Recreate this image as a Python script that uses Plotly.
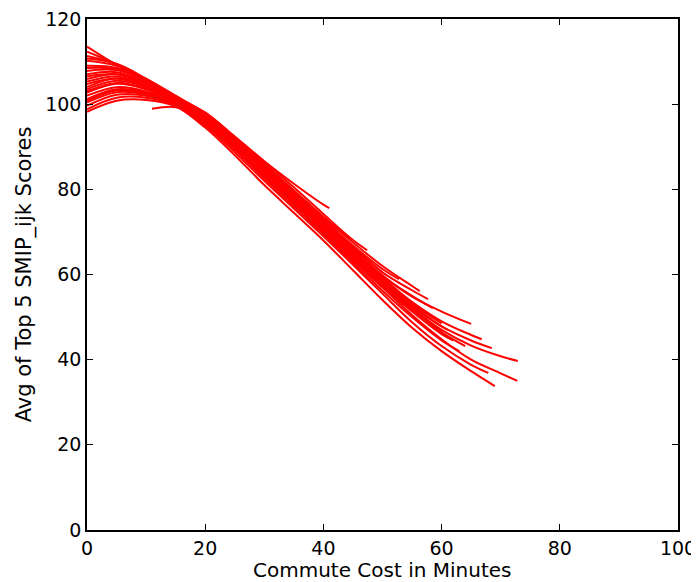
import plotly.graph_objects as go

# Curves (x = commute minutes, y = avg score)
a_x = [0, 5, 10, 15, 20, 25, 30, 35, 40, 41]
a_y = [113.5, 109.2, 105.6, 101.6, 98.0, 92.3, 86.6, 81.3, 76.4, 75.6]
b_x = [0, 5, 10, 15, 20, 25, 30, 35, 40, 44.5]
b_y = [112.3, 109.3, 105.3, 101.3, 97.2, 91.5, 85.5, 79.5, 73.5, 68.3]
c_x = [0, 5, 10, 15, 20, 25, 30, 35, 40, 45, 47.4]
c_y = [111.3, 109.4, 105.8, 101.8, 98.0, 92.4, 86.5, 80.5, 74.2, 68.1, 65.7]
d_x = [0, 5, 10, 15, 20, 25, 30, 35, 40, 45, 50, 52.8]
d_y = [110.7, 109.5, 106.0, 102.0, 97.8, 91.9, 85.8, 79.5, 73.0, 66.8, 61.3, 58.9]
e_x = [0, 5, 10, 15, 20, 25, 30, 35, 40, 45, 50, 55, 56.3]
e_y = [110.2, 109.0, 105.5, 101.5, 97.4, 92.0, 86.0, 79.8, 73.5, 67.5, 62.0, 57.3, 56.1]
f_x = [0, 5, 10, 15, 20, 25, 30, 35, 40, 45, 50, 55, 57.7]
f_y = [109.0, 108.5, 105.5, 101.5, 96.8, 91.3, 85.2, 79.0, 72.8, 66.5, 60.5, 56.3, 54.2]
g_x = [0, 5, 10, 15, 20, 25, 30, 35, 40, 45, 50, 55, 58.5]
g_y = [107.8, 108.0, 105.5, 101.3, 96.5, 91.0, 84.8, 78.5, 72.0, 65.5, 59.5, 55.0, 52.1]
h_x = [0, 5, 10, 15, 20, 25, 30, 35, 40, 45, 50, 55, 60, 65]
h_y = [107.0, 107.5, 105.0, 101.0, 96.8, 91.5, 85.5, 79.3, 73.0, 66.0, 59.8, 54.8, 51.3, 48.4]
i_x = [0, 5, 10, 15, 20, 25, 30, 35, 40, 45, 50, 55, 60, 65, 66.8]
i_y = [105.9, 107.0, 104.7, 101.0, 96.3, 90.8, 84.5, 78.0, 71.5, 65.0, 58.8, 53.5, 49.0, 45.8, 44.8]
j_x = [0, 5, 10, 15, 20, 25, 30, 35, 40, 45, 50, 55, 60, 65, 68.5]
j_y = [104.7, 106.0, 104.3, 100.8, 96.2, 90.6, 84.2, 77.7, 71.2, 64.6, 58.0, 52.5, 47.8, 44.5, 42.7]
k_x = [0, 5, 10, 15, 20, 25, 30, 35, 40, 45, 50, 55, 60, 65, 70, 72.9]
k_y = [103.5, 105.5, 104.0, 100.6, 96.0, 90.3, 84.0, 77.5, 71.0, 64.3, 57.8, 52.0, 47.0, 43.3, 40.8, 39.7]
l_x = [0, 5, 10, 15, 20, 25, 30, 35, 40, 45, 50, 55, 60, 65, 70, 72.8]
l_y = [102.7, 104.8, 103.5, 100.5, 96.0, 90.3, 83.8, 77.0, 70.3, 63.6, 57.0, 50.5, 44.8, 40.0, 36.8, 35.0]
m_x = [0, 5, 10, 15, 20, 25, 30, 35, 40, 45, 50, 55, 60, 65, 69]
m_y = [98.2, 100.8, 101.0, 99.5, 94.5, 88.0, 81.0, 74.5, 68.0, 61.0, 54.0, 47.5, 42.0, 37.3, 33.8]
n_x = [0, 5, 10, 15, 20, 25, 30, 35, 40, 45, 50, 55, 60, 65, 67.9]
n_y = [98.8, 101.5, 101.5, 99.6, 95.0, 88.7, 82.0, 75.5, 69.0, 62.3, 55.5, 48.8, 43.2, 38.8, 36.9]
o_x = [0, 5, 10, 15, 20, 25, 30, 35, 40, 45, 50, 55, 60]
o_y = [102.0, 104.0, 103.0, 100.3, 96.0, 90.5, 84.3, 77.8, 71.3, 64.8, 58.3, 52.3, 46.5]
p_x = [0, 5, 10, 15, 20, 25, 30, 35, 40, 45, 50, 55, 60, 62]
p_y = [101.2, 103.5, 102.8, 100.2, 95.8, 90.0, 83.5, 77.0, 70.5, 64.0, 57.3, 51.3, 46.0, 44.5]
q_x = [0, 5, 10, 15, 20, 25, 30, 35, 40, 45, 50, 55]
q_y = [100.4, 102.8, 102.3, 100.0, 95.5, 89.7, 83.0, 76.5, 70.0, 63.3, 57.0, 51.5]
r_x = [0, 5, 10, 15, 20, 25, 30, 35, 40, 45, 50, 55, 60, 63]
r_y = [99.6, 102.2, 102.0, 99.8, 95.3, 89.3, 82.6, 76.0, 69.5, 62.8, 56.2, 50.0, 44.5, 42.0]
s_x = [0, 5, 10, 15, 20, 25, 30, 35, 40, 45, 50]
s_y = [106.5, 107.0, 105.0, 101.0, 96.7, 91.2, 85.0, 78.8, 72.5, 66.3, 60.5]
t_x = [0, 5, 10, 15, 20, 25, 30, 35, 40, 45, 50, 55, 60, 61]
t_y = [104.0, 106.0, 104.0, 100.7, 96.2, 90.7, 84.5, 78.0, 71.5, 65.0, 58.6, 52.8, 47.8, 47.0]
u_x = [11, 15, 20, 25, 30, 35, 40, 45, 50, 55, 58]
u_y = [98.9, 99.3, 96.8, 91.3, 85.2, 78.8, 72.3, 65.8, 59.3, 53.5, 50.5]
v_x = [0, 5, 10, 15, 20, 25, 30, 35, 40, 45, 50, 55, 60]
v_y = [108.5, 108.2, 105.3, 101.2, 96.6, 91.0, 84.7, 78.2, 71.8, 65.3, 59.0, 53.2, 48.5]
w_x = [0, 5, 10, 15, 20, 25, 30, 35, 40, 45, 50, 55, 60, 64]
w_y = [103.0, 105.0, 103.6, 100.5, 95.7, 90.0, 83.6, 77.2, 70.8, 64.2, 57.6, 51.8, 46.4, 43.2]
x2_x = [0, 5, 10, 15, 20, 25, 30, 35, 40, 45, 50]
x2_y = [100.8, 103.2, 102.5, 100.1, 95.6, 89.8, 83.2, 76.7, 70.2, 63.6, 57.2]
y2_x = [0, 5, 10, 15, 20, 25, 30, 35, 40, 45, 50, 53]
y2_y = [105.3, 106.5, 104.5, 100.9, 96.4, 91.0, 84.8, 78.3, 71.8, 65.3, 59.0, 55.5]

curves = [(a_x, a_y), (b_x, b_y), (c_x, c_y), (d_x, d_y), (e_x, e_y),
          (f_x, f_y), (g_x, g_y), (h_x, h_y), (i_x, i_y), (j_x, j_y),
          (k_x, k_y), (l_x, l_y), (m_x, m_y), (n_x, n_y), (o_x, o_y),
          (p_x, p_y), (q_x, q_y), (r_x, r_y), (s_x, s_y), (t_x, t_y),
          (u_x, u_y), (v_x, v_y), (w_x, w_y), (x2_x, x2_y), (y2_x, y2_y)]

x_ticks = [0, 20, 40, 60, 80, 100]
y_ticks = [0, 20, 40, 60, 80, 100, 120]
x_title = "Commute Cost in Minutes"
y_title = "Avg of Top 5 SMIP_ijk Scores"

fig = go.Figure()
for xs, ys in curves:
    fig.add_trace(go.Scatter(x=xs, y=ys, mode="lines",
                             line=dict(color="#ff0000", width=2, shape="spline", smoothing=1.0),
                             showlegend=False, hoverinfo="skip"))

font = dict(family="DejaVu Sans", size=21, color="#000000")
xtitle_font = dict(family="DejaVu Sans", size=20, color="#000000")
tick_font = dict(family="DejaVu Sans", size=19, color="#000000")
axis_common = dict(showline=True, linecolor="#000000", linewidth=1.5, mirror="allticks",
                   ticks="inside", ticklen=6, tickwidth=1, tickcolor="#000000",
                   showgrid=False, zeroline=False, tickfont=tick_font, automargin=False,
                   ticklabeloverflow="allow")

# the page adds an 8px body margin, so the figure is offset accordingly
fig.update_layout(
    width=691, height=574,
    margin=dict(l=79, r=21, t=11, b=52),
    paper_bgcolor="white", plot_bgcolor="white",
    font=font,
    xaxis=dict(range=[0, 100], tickvals=x_ticks, ticktext=[str(v) for v in x_ticks],
               **axis_common),
    yaxis=dict(range=[0, 120], tickvals=y_ticks, ticktext=[str(v) for v in y_ticks],
               title=dict(text=y_title, font=font, standoff=8),
               **axis_common),
    annotations=[dict(text=x_title, xref="paper", yref="paper", x=0.5, y=0,
                      xanchor="center", yanchor="top", yshift=-26, showarrow=False,
                      font=xtitle_font)],
)

fig.write_html("out.html")
